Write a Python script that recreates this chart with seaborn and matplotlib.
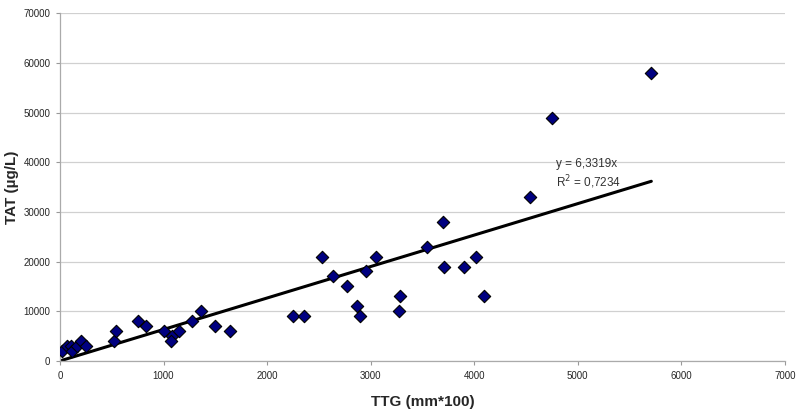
import seaborn as sns
from matplotlib import pyplot as plt
import pandas as pd

# TTG (mm*100) vs TAT (µg/L)
ttg = [20, 65, 105, 115, 165, 200, 250,
       521, 541, 756, 830, 1004, 1078, 1071, 1152, 1274, 1358, 1500, 1641,
       2252, 2358, 2526, 2632, 2773, 2870, 2896, 2960, 3050, 3275, 3282,
       3546, 3700, 3710, 3900, 4022, 4093, 4543, 4752, 5711]
tat = [2000, 3000, 3000, 2000, 3000, 4000, 3000,
       4000, 6000, 8000, 7000, 6000, 5000, 4000, 6000, 8000, 10000, 7000, 6000,
       9000, 9000, 21000, 17000, 15000, 11000, 9000, 18000, 21000, 10000, 13000,
       23000, 28000, 19000, 19000, 21000, 13000, 33000, 49000, 58000]

slope = 6.3319
r2 = 0.7234

df = pd.DataFrame({"TTG": ttg, "TAT": tat})

sns.set_style("white")
plt.rcParams['font.family'] = ['Liberation Sans', 'DejaVu Sans']

fig = plt.figure(figsize=(8, 4.12), dpi=100)
ax = fig.add_axes([0.075, 0.124, 0.906, 0.844])

ax.yaxis.grid(True, color='#d0d0d0', linewidth=0.9)
ax.set_axisbelow(True)

# linear trend through origin
x_max = max(ttg)
ax.plot([0, x_max], [0, slope * x_max], color='black', linewidth=2.2, zorder=2)

sns.scatterplot(data=df, x="TTG", y="TAT", marker='D', s=40, color='#000080',
                edgecolor='black', linewidth=0.8, ax=ax, zorder=3)

ax.text(4790, 39600, "y = 6,3319x", fontsize=8.5, color='#333333', va='center')
ax.text(4790, 36000, "R$^2$ = 0,7234", fontsize=8.5, color='#333333', va='center')

ax.set_xlim(0, 7000)
ax.set_ylim(0, 70000)
ax.set_xticks(range(0, 7001, 1000))
ax.set_yticks(range(0, 70001, 10000))
ax.tick_params(axis='both', labelsize=7, direction='out', length=3,
               color='#999999', width=0.8, pad=4)
ax.tick_params(axis='both', which='both', bottom=True, left=True)

sns.despine(ax=ax)
for side in ['left', 'bottom']:
    ax.spines[side].set_color('#aaaaaa')
    ax.spines[side].set_linewidth(0.9)

ax.set_xlabel("TTG (mm*100)", fontsize=11, fontweight='bold', labelpad=10)
ax.set_ylabel("TAT (µg/L)", fontsize=11, fontweight='bold', labelpad=3)

fig.savefig("out.png", dpi=100)
